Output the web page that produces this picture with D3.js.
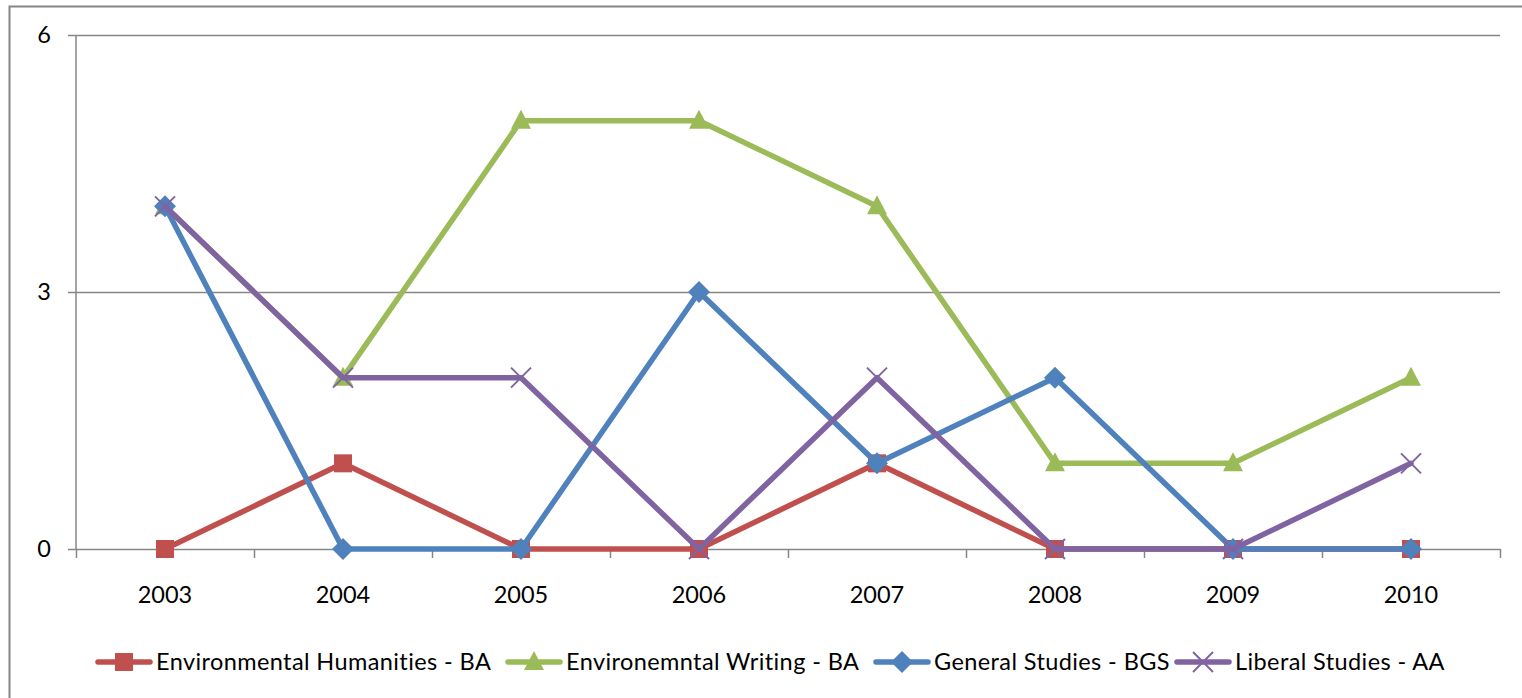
<!DOCTYPE html>
<html><head><meta charset="utf-8">
<script src="https://cdn.jsdelivr.net/npm/d3@7"></script>
<style>html,body{margin:0;padding:0;background:#fff;}svg{display:block;}text{font-variant-ligatures:none;}</style>
</head><body>
<svg id="c" width="1522" height="698"></svg>
<script>
const years = ["2003","2004","2005","2006","2007","2008","2009","2010"];
const seriesNames = ["Environmental Humanities - BA","Environemntal Writing - BA","General Studies - BGS","Liberal Studies - AA"];
const envHumanities = [0,1,0,0,1,0,0,0];
const envWriting = [4,2,5,5,4,1,1,2];
const generalStudies = [4,0,0,3,1,2,0,0];
const liberalStudies = [4,2,2,0,2,0,0,1];
const yTicks = [0,3,6];
const colors = ["#C0504D","#9BBB59","#4F81BD","#8064A2"];
const markers = ["square","triangle","diamond","x"];
const allSeries = [envHumanities, envWriting, generalStudies, liberalStudies];

const svg = d3.select("#c");
const font = "Lato, 'Open Sans', sans-serif";
const fs = 23.5;
const L = 76, R = 1500, T = 35, B = 549;

svg.append("rect").attr("x",9.5).attr("y",6.5).attr("width",1530).attr("height",700)
  .attr("fill","none").attr("stroke","#868686").attr("stroke-width",2);

const x = d3.scaleBand().domain(years).range([L,R]).padding(0);
const y = d3.scaleLinear().domain([0,6]).range([B,T]);

svg.append("g").selectAll("line").data(yTicks).join("line")
  .attr("x1",68).attr("x2",R).attr("y1",d=>y(d)+0.5).attr("y2",d=>y(d)+0.5)
  .attr("stroke","#868686").attr("stroke-width",1.5);
svg.append("line").attr("x1",L).attr("x2",L).attr("y1",T).attr("y2",B)
  .attr("stroke","#868686").attr("stroke-width",1.5);
svg.append("g").selectAll("text").data(yTicks).join("text")
  .attr("x",51).attr("y",d=>y(d)).attr("dy","0.35em").attr("text-anchor","end")
  .attr("font-family",font).attr("font-size",fs).attr("fill","#000").text(d=>d);
const bounds = years.map(d=>x(d)).concat([R]);
svg.append("g").selectAll("line").data(bounds).join("line")
  .attr("x1",d=>d+0.5).attr("x2",d=>d+0.5).attr("y1",B).attr("y2",B+9)
  .attr("stroke","#868686").attr("stroke-width",1.5);
svg.append("g").selectAll("text").data(years).join("text")
  .attr("x",d=>x(d)+x.bandwidth()/2).attr("y",603).attr("text-anchor","middle")
  .attr("font-family",font).attr("font-size",fs).attr("fill","#000").text(d=>d);

function drawMarker(g, type, color, cx, cy){
  if(type==="square"){
    g.append("rect").attr("x",cx-9).attr("y",cy-9).attr("width",18).attr("height",18).attr("fill",color);
  } else if(type==="triangle"){
    g.append("path").attr("d",`M${cx},${cy-11}L${cx+10},${cy+8}L${cx-10},${cy+8}Z`).attr("fill",color);
  } else if(type==="diamond"){
    g.append("path").attr("d",`M${cx},${cy-11}L${cx+11},${cy}L${cx},${cy+11}L${cx-11},${cy}Z`).attr("fill",color);
  } else {
    g.append("path").attr("d",`M${cx-10},${cy-10}L${cx+10},${cy+10}M${cx+10},${cy-10}L${cx-10},${cy+10}`)
      .attr("stroke",color).attr("stroke-width",2).attr("fill","none");
  }
}

const line = d3.line().x((d,i)=>x(years[i])+x.bandwidth()/2).y(d=>y(d));
allSeries.forEach((vals,si)=>{
  const g = svg.append("g");
  g.append("path").attr("d",line(vals)).attr("fill","none").attr("stroke",colors[si])
    .attr("stroke-width",5.5).attr("stroke-linejoin","round").attr("stroke-linecap","round");
  vals.forEach((v,i)=>drawMarker(g, markers[si], colors[si], x(years[i])+x.bandwidth()/2, y(v)));
});

const legY = 662;
const legStarts = [98, 508, 876, 1177];
seriesNames.forEach((name,i)=>{
  const g = svg.append("g");
  const x0 = legStarts[i];
  g.append("line").attr("x1",x0).attr("x2",x0+52).attr("y1",legY).attr("y2",legY)
    .attr("stroke",colors[i]).attr("stroke-width",5.5).attr("stroke-linecap","round");
  drawMarker(g, markers[i], colors[i], x0+26, legY);
  g.append("text").attr("x",x0+58).attr("y",legY).attr("dy","0.35em")
    .attr("font-family",font).attr("font-size",fs).attr("letter-spacing",0.4)
    .attr("fill","#000").text(name);
});
</script>
</body></html>
